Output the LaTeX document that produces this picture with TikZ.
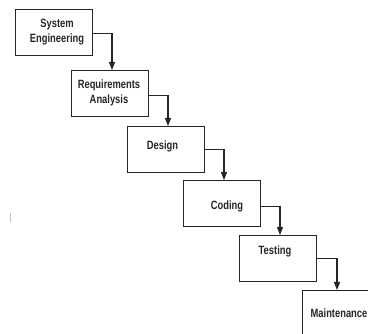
\documentclass[tikz,border=0pt]{standalone}
\usepackage{fontspec}
\newfontfamily\narrowfont{Liberation Sans}[FakeStretch=0.78]
\usetikzlibrary{arrows.meta,calc}
\begin{document}
\begin{tikzpicture}[x=1pt,y=-1pt,
  stepbox/.style={draw=black!85, line width=1.3pt, fill=white, minimum width=77pt, minimum height=46pt, inner sep=0pt, anchor=north west},
  txt/.style={font=\narrowfont\bfseries\fontsize{12}{15}\selectfont, align=center, inner sep=0pt, text=black!85},
  flow/.style={draw=black!85, line width=1.2pt, -{Triangle[length=8pt,width=6pt]}}]
\useasboundingbox (0,0) rectangle (368,334);
\clip (0,0) rectangle (368,334);
\node[stepbox] (b1) at (15,9) {};
\node[stepbox] (b2) at (71,70) {};
\node[stepbox] (b3) at (127,126) {};
\node[stepbox] (b4) at (183,180) {};
\node[stepbox] (b5) at (239,235) {};
\node[stepbox] (b6) at (302,290) {};
\node[txt] (t1) at (57,32) {System\\Engineering};
\node[txt] (t2) at (109,93) {Requirements\\Analysis};
\node[txt] (t3) at (162.5,146) {Design};
\node[txt] (t4) at (227,206) {Coding};
\node[txt] (t5) at (275,251) {Testing};
\node[txt] (t6) at (339,313) {Maintenance};
\draw[flow] ([yshift=-1pt]b1.east) -| ([xshift=41pt]b2.north west);
\draw[flow] ([yshift=-1.5pt]b2.east) -| ([xshift=41pt]b3.north west);
\draw[flow] (b3.east) -| ([xshift=41pt]b4.north west);
\draw[flow] ([yshift=-2.5pt]b4.east) -| ([xshift=41pt]b5.north west);
\draw[flow] (b5.east) -| ([xshift=35pt]b6.north west);
\coordinate (m1) at (10,213);
\coordinate (m2) at (10,222);
\draw[black!25, line width=0.7pt] (m1) -- (m2);
\end{tikzpicture}
\end{document}
